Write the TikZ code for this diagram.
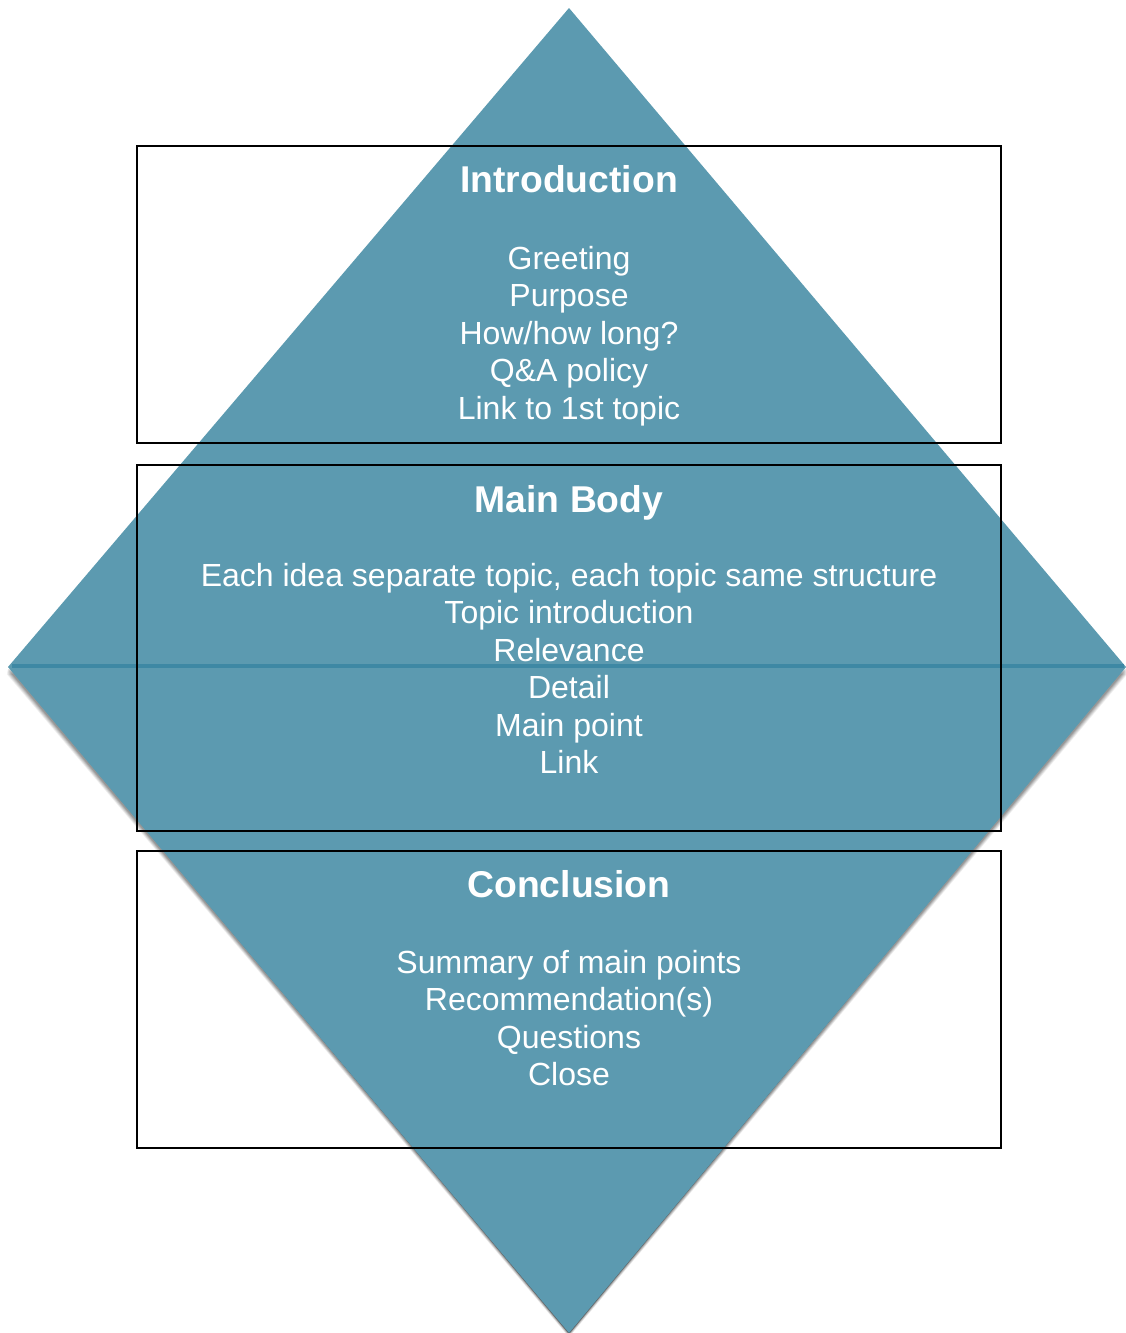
\documentclass[tikz,border=0pt]{standalone}
\usepackage{fontspec}
\setmainfont{Liberation Sans}
\definecolor{teal1}{RGB}{92,154,176}
\definecolor{seam}{RGB}{62,136,164}
\begin{document}
\begin{tikzpicture}[x=1pt,y=-1pt,
  boxframe/.style={draw=black,line width=2.2pt},
  ttl/.style={anchor=base,text=white,inner sep=0pt,font=\fontsize{37.3}{44}\selectfont\bfseries},
  itm/.style={anchor=base,text=white,inner sep=0pt,font=\fontsize{32}{38}\selectfont}]
\useasboundingbox (0,0) rectangle (1126,1333);
% shadow of the lower triangle
\foreach \d/\o in {7/0.06,6/0.07,5/0.08,4/0.09,3/0.1,2/0.1}{
  \fill[black,opacity=\o] (8+\d*0.3,667) -- (1126-\d*0.3,667) -- (569,1333+\d*0.2) -- cycle;
  \fill[black,opacity=\o] (8-\d*0.2,667+\d) -- (1126+\d*0.2,667+\d) -- (569,1333+\d*0.6) -- cycle;
}
% diamond
\fill[teal1] (569,8) -- (8,667) -- (1126,667) -- cycle;
\fill[teal1] (8,667) -- (1126,667) -- (569,1333) -- cycle;
\draw[seam,line width=3.5pt] (12,666) -- (1124,666);
% boxes
\draw[boxframe] (137,146) rectangle (1001,443);
\draw[boxframe] (137,465) rectangle (1001,831);
\draw[boxframe] (137,851) rectangle (1001,1148);
% Introduction
\node[ttl] (t1) at (569,192) {Introduction};
\node[itm] (i1) at (569,269) {Greeting};
\node[itm] (i2) at (569,306.5) {Purpose};
\node[itm] (i3) at (569,344) {How/how long?};
\node[itm] (i4) at (569,381.5) {Q\&A policy};
\node[itm] (i5) at (569,419) {Link to 1st topic};
% Main body
\node[ttl] (t2) at (569,512) {Main Body};
\node[itm] (m1) at (569,586) {Each idea separate topic, each topic same structure};
\node[itm] (m2) at (569,623.5) {Topic introduction};
\node[itm] (m3) at (569,661) {Relevance};
\node[itm] (m4) at (569,698.5) {Detail};
\node[itm] (m5) at (569,736) {Main point};
\node[itm] (m6) at (569,773.5) {Link};
% Conclusion
\node[ttl] (t3) at (569,897) {Conclusion};
\node[itm] (c1) at (569,973) {Summary of main points};
\node[itm] (c2) at (569,1010.5) {Recommendation(s)};
\node[itm] (c3) at (569,1048) {Questions};
\node[itm] (c4) at (569,1085.5) {Close};
\end{tikzpicture}
\end{document}
